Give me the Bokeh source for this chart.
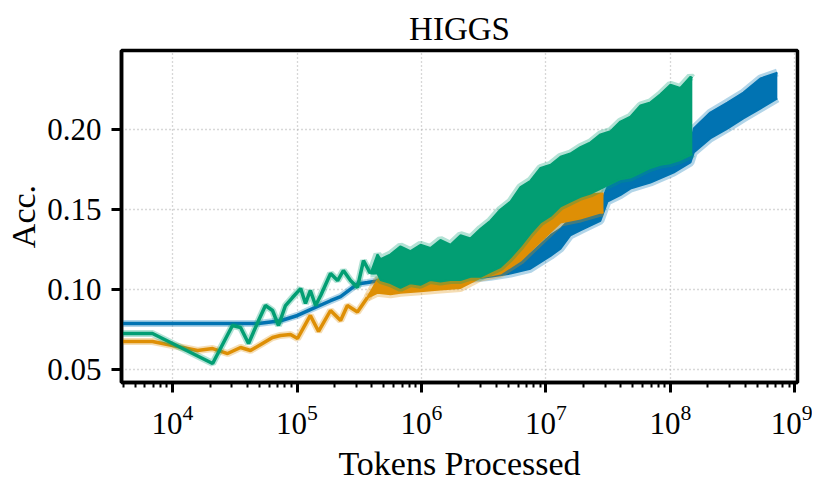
from bokeh.plotting import figure
from bokeh.models import FixedTicker, LogTickFormatter, Range1d
from bokeh.embed import file_html
from bokeh.resources import INLINE

# ---------------- data ----------------
BLUE, ORANGE, GREEN = "#0173b2", "#de8f05", "#029e73"

# sparse (early) parts of each curve
blue_x = [3.5e3, 4.9e4, 7.4e4, 1.01e5, 1.28e5, 1.86e5, 2.24e5, 3.06e5, 3.68e5, 4.69e5]
blue_y = [0.0788, 0.0788, 0.0805, 0.0838, 0.0875, 0.0930, 0.0956, 0.1035, 0.1044, 0.1056]

orange_x = [3.5e3, 6.9e3, 1.59e4, 2.1e4, 2.77e4, 3.52e4, 4.23e4, 5.28e4, 6.36e4, 7.36e4,
            8.87e4, 1.01e5, 1.28e5, 1.49e5, 1.86e5, 2.24e5, 2.54e5, 3.06e5, 3.68e5]
orange_y = [0.0675, 0.0675, 0.0619, 0.0631, 0.0600, 0.0638, 0.0619, 0.0663, 0.0700, 0.0713,
            0.0719, 0.0694, 0.0838, 0.0738, 0.0869, 0.0806, 0.0900, 0.0860, 0.0950]

green_x = [3.5e3, 6.9e3, 2.1e4, 3.03e4, 3.52e4, 4.08e4, 4.91e4, 5.58e4, 6.36e4, 7.1e4,
           8.08e4, 9.2e4, 1.07e5, 1.17e5, 1.28e5, 1.41e5, 1.55e5, 1.86e5, 2.12e5, 2.36e5,
           2.69e5, 3.06e5, 3.42e5, 3.89e5]
green_y = [0.0725, 0.0725, 0.0538, 0.0775, 0.0763, 0.0663, 0.0806, 0.0900, 0.0869, 0.0775,
           0.0900, 0.0950, 0.1006, 0.0913, 0.0994, 0.0900, 0.0963, 0.1100, 0.1056, 0.1119,
           0.1056, 0.1013, 0.1181, 0.1100]

# dense (noisy) parts: lower / upper envelope of the oscillating curve
blue_band_x = [4.69e5, 1.0e6, 2.06e6, 3.58e6, 5.19e6, 7.51e6, 1.09e7, 1.31e7, 1.57e7, 1.89e7,
               2.74e7, 3.12e7, 3.96e7, 4.77e7, 6.91e7, 1.06e8, 1.45e8, 1.54e8, 2.09e8, 2.87e8,
               3.86e8, 5.28e8, 7.23e8]
blue_lo = [0.1056, 0.105, 0.106, 0.108, 0.110, 0.113, 0.121, 0.1256, 0.1338, 0.137,
           0.143, 0.155, 0.159, 0.1631, 0.1669, 0.1731, 0.1794, 0.1856, 0.1944, 0.2006,
           0.2069, 0.2131, 0.2194]
blue_hi = [0.1056, 0.111, 0.113, 0.116, 0.120, 0.1225, 0.134, 0.1381, 0.1444, 0.148,
           0.154, 0.164, 0.168, 0.1731, 0.1794, 0.1838, 0.1900, 0.2006, 0.2106, 0.2169,
           0.2231, 0.2319, 0.2356]

orange_band_x = [3.68e5, 4.43e5, 5.64e5, 6.78e5, 9.82e5, 1.42e6, 2.06e6, 2.98e6, 4.31e6,
                 6.24e6, 9.04e6, 1.31e7, 1.89e7, 2.74e7, 2.90e7]
orange_lo = [0.0950, 0.098, 0.097, 0.098, 0.099, 0.100, 0.101, 0.1075, 0.110,
             0.118, 0.130, 0.1419, 0.1444, 0.1481, 0.148]
orange_hi = [0.0950, 0.106, 0.110, 0.115, 0.118, 0.120, 0.122, 0.128, 0.134,
             0.141, 0.147, 0.157, 0.159, 0.160, 0.160]

green_band_x = [3.89e5, 4.43e5, 4.69e5, 5.64e5, 6.78e5, 8.16e5, 9.82e5, 1.18e6, 1.42e6,
                1.71e6, 2.06e6, 2.48e6, 2.98e6, 3.58e6, 4.31e6, 5.19e6, 6.24e6, 7.51e6,
                9.04e6, 1.09e7, 1.31e7, 1.57e7, 1.89e7, 2.28e7, 2.74e7, 3.30e7, 3.96e7,
                4.77e7, 5.74e7, 6.91e7, 8.31e7, 1.0e8, 1.2e8, 1.45e8, 1.50e8]
green_lo = [0.1100, 0.110, 0.106, 0.104, 0.101, 0.104, 0.103, 0.106, 0.105,
            0.106, 0.106, 0.108, 0.108, 0.111, 0.114, 0.120, 0.127, 0.135,
            0.142, 0.146, 0.152, 0.155, 0.158, 0.160, 0.163, 0.166, 0.169,
            0.170, 0.173, 0.176, 0.178, 0.179, 0.181, 0.184, 0.185]
green_hi = [0.1100, 0.122, 0.119, 0.122, 0.127, 0.124, 0.128, 0.126, 0.131,
            0.128, 0.134, 0.132, 0.138, 0.143, 0.150, 0.155, 0.164, 0.168,
            0.176, 0.178, 0.183, 0.185, 0.189, 0.192, 0.197, 0.199, 0.205,
            0.208, 0.215, 0.217, 0.222, 0.228, 0.226, 0.233, 0.232]

x_ticks = [1e4, 1e5, 1e6, 1e7, 1e8, 1e9]
y_ticks = [0.05, 0.10, 0.15, 0.20]
y_tick_labels = ["0.05", "0.10", "0.15", "0.20"]

TITLE = "HIGGS"
XLABEL = "Tokens Processed"
YLABEL = "Acc."

# ---------------- figure ----------------
FONT = "Liberation Serif"
p = figure(width=812, height=484, x_axis_type="log", output_backend="svg",
           toolbar_location=None,
           x_range=Range1d(3.89e3, 1.05e9), y_range=Range1d(0.0419, 0.2494),
           min_border_left=121, min_border_right=15, min_border_top=50,
           min_border_bottom=102)

p.title.text = TITLE
p.title.align = "center"
p.title.text_font = FONT
p.title.text_font_size = "33px"
p.title.text_font_style = "normal"
p.title.text_color = "black"
p.title.standoff = 8

p.outline_line_color = "black"
p.outline_line_width = 3.5
p.background_fill_color = "white"
p.border_fill_color = "white"

minor = [m * 10.0 ** e for e in range(3, 9) for m in range(2, 10)]
p.xaxis.ticker = FixedTicker(ticks=x_ticks, minor_ticks=minor)
p.xaxis.formatter = LogTickFormatter()
p.yaxis.ticker = FixedTicker(ticks=y_ticks)
p.yaxis.major_label_overrides = {t: s for t, s in zip(y_ticks, y_tick_labels)}

p.xaxis.axis_label = XLABEL
p.yaxis.axis_label = YLABEL
for ax in (p.xaxis, p.yaxis):
    ax.axis_label_text_font = FONT
    ax.axis_label_text_font_size = "34px"
    ax.axis_label_text_font_style = "normal"
    ax.axis_label_text_color = "black"
    ax.major_label_text_font = FONT
    ax.major_label_text_font_size = "31px"
    ax.major_label_text_color = "black"
    ax.axis_line_color = "black"
    ax.axis_line_width = 3.5
    ax.major_tick_line_color = "black"
    ax.major_tick_line_width = 3
    ax.major_tick_out = 10
    ax.major_tick_in = 0
    ax.minor_tick_line_color = "black"
    ax.minor_tick_line_width = 2
    ax.minor_tick_out = 5
    ax.minor_tick_in = 0
p.yaxis.minor_tick_line_color = None
p.xaxis.major_label_standoff = 12
p.yaxis.major_label_standoff = 10
p.xaxis.axis_label_standoff = 8
p.yaxis.axis_label_standoff = 2

for g in (p.xgrid, p.ygrid):
    g.grid_line_color = "#b0b0b0"
    g.grid_line_dash = "1 3"
    g.grid_line_width = 1.3

# ---------------- series ----------------
def draw(color, xs, ys, bx, lo, hi):
    # light raw halo
    p.line(xs, ys, line_color=color, line_alpha=0.3, line_width=7)
    p.line(bx, lo, line_color=color, line_alpha=0.3, line_width=8)
    p.line(bx, hi, line_color=color, line_alpha=0.3, line_width=8)
    # dark smoothed curve
    p.varea(x=bx, y1=lo, y2=hi, fill_color=color, fill_alpha=1.0)
    p.line(bx, lo, line_color=color, line_width=2)
    p.line(bx, hi, line_color=color, line_width=2)
    p.line(xs, ys, line_color=color, line_width=3.5)

draw(BLUE, blue_x, blue_y, blue_band_x, blue_lo, blue_hi)
draw(ORANGE, orange_x, orange_y, orange_band_x, orange_lo, orange_hi)
draw(GREEN, green_x, green_y, green_band_x, green_lo, green_hi)

open("out.html", "w").write(file_html(p, INLINE))
